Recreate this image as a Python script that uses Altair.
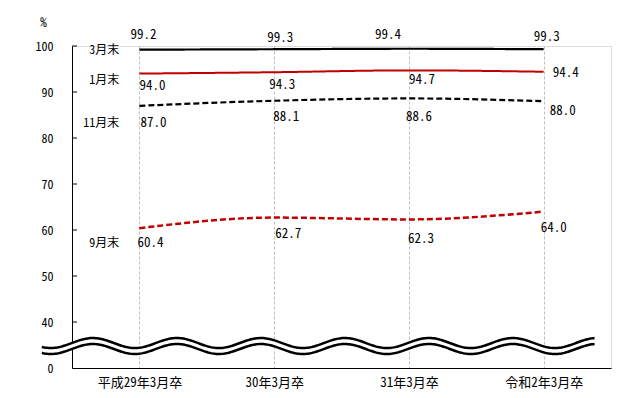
import altair as alt
import pandas as pd
import numpy as np

# ---- data ----
categories = ["平成29年3月卒", "30年3月卒", "31年3月卒", "令和2年3月卒"]
series_names = ["3月末", "1月末", "11月末", "9月末"]
mar_end = [99.2, 99.3, 99.4, 99.3]
jan_end = [94.0, 94.3, 94.7, 94.4]
nov_end = [87.0, 88.1, 88.6, 88.0]
sep_end = [60.4, 62.7, 62.3, 64.0]
y_tick_values = [30, 40, 50, 60, 70, 80, 90, 100]
y_tick_labels = ["0", "40", "50", "60", "70", "80", "90", "100"]

series_values = [mar_end, jan_end, nov_end, sep_end]

# ---- styles ----
colors = ["#000000", "#C00000", "#000000", "#C00000"]
dashes = [[1, 0], [1, 0], [6, 3], [6, 3]]
widths = [2.2, 2.0, 2.2, 2.5]
label_dx = [[4, 6, -21, 3], [13, 8, 13, 22], [14, 12, 10, 19], [11, 14, 12, 10]]
label_dy = [[-15, -11, -14, -12], [12, 13, 10, 1], [17, 16, 19, 10], [15, 16, 20, 16]]
name_dy = [0, 6, 17, 15]

FONT = "Noto Sans Mono CJK JP, Noto Sans CJK JP, DejaVu Sans"
X_DOMAIN = [-0.5, 3.5]
Y_DOMAIN = [30, 100]

xs = alt.Scale(domain=X_DOMAIN, nice=False, zero=False)
ys = alt.Scale(domain=Y_DOMAIN, nice=False, zero=False)

label_js = "[" + ",".join("'%s'" % c for c in categories) + "]"
ylab_js = "{" + ",".join("'%d':'%s'" % (v, l) for v, l in zip(y_tick_values, y_tick_labels)) + "}"

x_axis = alt.Axis(
    values=[0, 1, 2, 3], labelExpr=label_js + "[datum.value]", title=None,
    ticks=False, tickSize=0, grid=True, gridColor="#BFBFBF", gridDash=[3, 2],
    gridWidth=1, domainColor="#000000", domainWidth=1, labelFont=FONT,
    labelFontSize=13, labelColor="#000000", labelPadding=8,
)
y_axis = alt.Axis(
    values=y_tick_values, labelExpr=ylab_js + "[datum.value]", title="%",
    titleAngle=0, titleX=-29, titleY=-24, titleAlign="center",
    titleBaseline="middle", titleFont=FONT, titleFontSize=13,
    titleFontWeight="normal", titleColor="#000000",
    ticks=False, tickSize=0, grid=False, domainColor="#000000", domainWidth=1,
    labelFont=FONT, labelFontSize=12, labelColor="#000000", labelPadding=19,
)

rows = []
for s, vals in zip(series_names, series_values):
    for i, v in enumerate(vals):
        rows.append({"series": s, "idx": i, "value": v, "label": f"{v:.1f}"})
df = pd.DataFrame(rows)

layers = []
# axis frame layer (carries the axes)
frame = alt.Chart(df).mark_point(opacity=0).encode(
    x=alt.X("idx:Q", scale=xs, axis=x_axis),
    y=alt.Y("value:Q", scale=ys, axis=y_axis),
)
layers.append(frame)

# inward y ticks
tick_df = pd.DataFrame({"t": y_tick_values[1:]})
ticks = alt.Chart(tick_df).mark_rule(color="#000000", strokeWidth=1).encode(
    y=alt.Y("t:Q", scale=ys), x=alt.value(0), x2=alt.value(5)
)
layers.append(ticks)

for k, s in enumerate(series_names):
    sd = df[df.series == s]
    line = alt.Chart(sd).mark_line(
        color=colors[k], strokeDash=dashes[k], strokeWidth=widths[k],
        interpolate="monotone",
    ).encode(x=alt.X("idx:Q", scale=xs), y=alt.Y("value:Q", scale=ys))
    layers.append(line)
    for i in range(len(sd)):
        pt = sd.iloc[[i]]
        txt = alt.Chart(pt).mark_text(
            font=FONT, fontSize=13, color="#000000", align="center",
            baseline="middle", dx=label_dx[k][i], dy=label_dy[k][i],
        ).encode(x=alt.X("idx:Q", scale=xs), y=alt.Y("value:Q", scale=ys),
                 text="label:N")
        layers.append(txt)
    first = sd.iloc[[0]].assign(name=s)
    nm = alt.Chart(first).mark_text(
        font=FONT, fontSize=12, color="#000000", align="right",
        baseline="middle", dx=-20, dy=name_dy[k],
    ).encode(x=alt.X("idx:Q", scale=xs), y=alt.Y("value:Q", scale=ys),
             text="name:N")
    layers.append(nm)

# axis-break wave (decoration)
wave_start, wave_end = -0.724, 3.378
wave_peak, wave_period = -0.345, 0.6234
wave_amp = 1.087
upper_center, lower_center = 35.43, 34.13
wx = np.linspace(wave_start, wave_end, 400)
phase = np.cos(2 * np.pi * (wx - wave_peak) / wave_period)
wave = pd.DataFrame({"wx": wx, "up": upper_center + wave_amp * phase,
                     "lo": lower_center + wave_amp * phase})
fill = alt.Chart(wave).mark_area(color="#FFFFFF", opacity=1).encode(
    x=alt.X("wx:Q", scale=xs), y=alt.Y("up:Q", scale=ys), y2="lo:Q"
)
up_line = alt.Chart(wave).mark_line(color="#000000", strokeWidth=2.5).encode(
    x=alt.X("wx:Q", scale=xs), y=alt.Y("up:Q", scale=ys)
)
lo_line = alt.Chart(wave).mark_line(color="#000000", strokeWidth=2.5).encode(
    x=alt.X("wx:Q", scale=xs), y=alt.Y("lo:Q", scale=ys)
)
layers += [fill, up_line, lo_line]

chart = alt.layer(*layers).properties(
    width=539, height=322,
    autosize=alt.AutoSizeParams(type="none"),
    padding={"left": 64, "top": 38, "right": 14, "bottom": 22},
).configure_view(strokeWidth=0).configure(background="#FFFFFF")

chart.save("out.html", embed_options={"renderer": "svg", "actions": False})
